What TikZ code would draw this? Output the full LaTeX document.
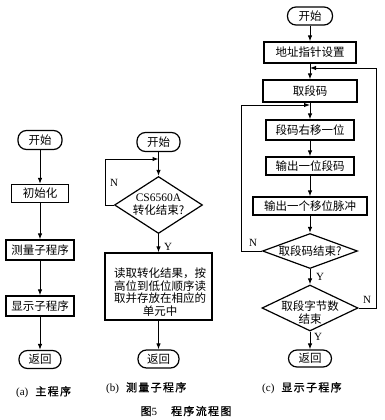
\documentclass[tikz,border=0pt]{standalone}
\usepackage{fontspec}
\setmainfont{Liberation Serif}
\newfontfamily\cjk{Noto Sans CJK SC}
\newfontfamily\cjkcap{Noto Sans CJK SC}[LetterSpace=12,FakeBold=1]
\usetikzlibrary{shapes.geometric,arrows.meta}
\tikzset{
  box/.style={draw, line width=1.2pt, inner sep=0pt, rectangle,
    font=\fontsize{11.5}{13}\selectfont\cjk},
  term/.style={box, rounded corners=8.5pt},
  dia/.style={draw, line width=1.2pt, diamond, inner sep=0pt},
  txt/.style={inner sep=0pt, align=center, font=\fontsize{11.5}{13}\selectfont\cjk},
  arr/.style={line width=1pt, -{Latex[length=6pt,width=4.5pt]}},
  lbl/.style={inner sep=0pt, font=\fontsize{11}{12}\selectfont},
  captxt/.style={inner sep=0pt, font=\fontsize{11}{12}\selectfont}
}
\begin{document}
\begin{tikzpicture}[x=1pt,y=-1pt]
\useasboundingbox (0,0) rectangle (384,420);
% ---------- (a) ----------
\node[term, minimum width=44, minimum height=19] (a0) at (40,140) {开始};
\node[box, minimum width=57, minimum height=18] (a1) at (40,193.5) {初始化};
\node[box, minimum width=68, minimum height=20] (a2) at (40,250) {测量子程序};
\node[box, minimum width=68, minimum height=20] (a3) at (40,306) {显示子程序};
\node[term, minimum width=42, minimum height=18] (a4) at (40,359.5) {返回};
\draw[arr] (a0) -- (a1);
\draw[arr] (a1) -- (a2);
\draw[arr] (a2) -- (a3);
\draw[arr] (a3) -- (a4);
\node[captxt, anchor=west] (capa) at (16,392) {(a)\hspace{7pt}{\cjkcap 主程序}};
% ---------- (b) ----------
\node[term, minimum width=43, minimum height=19] (b0) at (158.5,142) {开始};
\node[dia, minimum width=88, minimum height=57] (b1) at (158.5,205) {};
\node[txt] (b1t) at (158.5,205) {{\rmfamily CS6560A}\\转化结束?};
\node[box, minimum width=107, minimum height=67] (b2) at (158.5,286.5) {};
\node[txt, font=\fontsize{11.5}{12.7}\selectfont\cjk] (b2t) at (160,292)
  {读取转化结果，按\\高位到低位顺序读\\取并存放在相应的\\单元中};
\node[term, minimum width=41, minimum height=18] (b3) at (158.5,359) {返回};
\coordinate (j3) at (158.5,159);
\draw[arr] (b0) -- (b1);
\draw[arr] (b1.west) -- ++(-8,0) |- (j3);
\draw[arr] (b1) -- (b2);
\draw[arr] (b2) -- (b3);
\node[lbl] (bn) at (114,183) {N};
\node[lbl] (by) at (168,247) {Y};
\node[captxt, anchor=west] (capb) at (106,388) {(b)\hspace{7pt}{\cjkcap 测量子程序}};
% ---------- (c) ----------
\node[term, minimum width=45, minimum height=18] (c0) at (310,16) {开始};
\node[box, minimum width=92, minimum height=21] (c1) at (310,52.5) {地址指针设置};
\node[box, minimum width=94, minimum height=22] (c2) at (310,91) {取段码};
\node[box, minimum width=88, minimum height=20] (c3) at (310,130) {段码右移一位};
\node[box, minimum width=88, minimum height=18] (c4) at (310,166) {输出一位段码};
\node[box, minimum width=114, minimum height=18] (c5) at (310,206) {输出一个移位脉冲};
\node[dia, minimum width=95, minimum height=35] (c6) at (310,251) {};
\node[txt] (c6t) at (310,251) {取段码结束?};
\node[dia, minimum width=96, minimum height=46] (c7) at (310,308) {};
\node[txt, font=\fontsize{11.5}{13}\selectfont\cjk] (c7t) at (310,313) {取段字节数\\结束};
\node[term, minimum width=43, minimum height=17] (c8) at (310,358.5) {返回};
\coordinate (j1) at (310,68);
\coordinate (j2) at (310,105);
\draw[arr] (c0) -- (c1);
\draw[arr] (c1) -- (c2);
\draw[arr] (c2) -- (c3);
\draw[arr] (c3) -- (c4);
\draw[arr] (c4) -- (c5);
\draw[arr] (c5) -- (c6);
\draw[arr] (c6) -- (c7);
\draw[arr] (c7) -- (c8);
\draw[arr] (c7.east) -- ++(18,0) |- (j1);
\draw[arr] (c6.west) -- ++(-20,0) |- (j2);
\node[lbl] (cn1) at (253,243) {N};
\node[lbl] (cy1) at (320,277) {Y};
\node[lbl] (cn2) at (367,300) {N};
\node[lbl] (cy2) at (318,337) {Y};
\node[captxt, anchor=west] (capc) at (262,388) {(c)\hspace{7pt}{\cjkcap 显示子程序}};
% ---------- title ----------
\node[captxt] (title) at (186,411) {{\cjkcap 图}5\hspace{14pt}{\cjkcap 程序流程图}};
\end{tikzpicture}
\end{document}
